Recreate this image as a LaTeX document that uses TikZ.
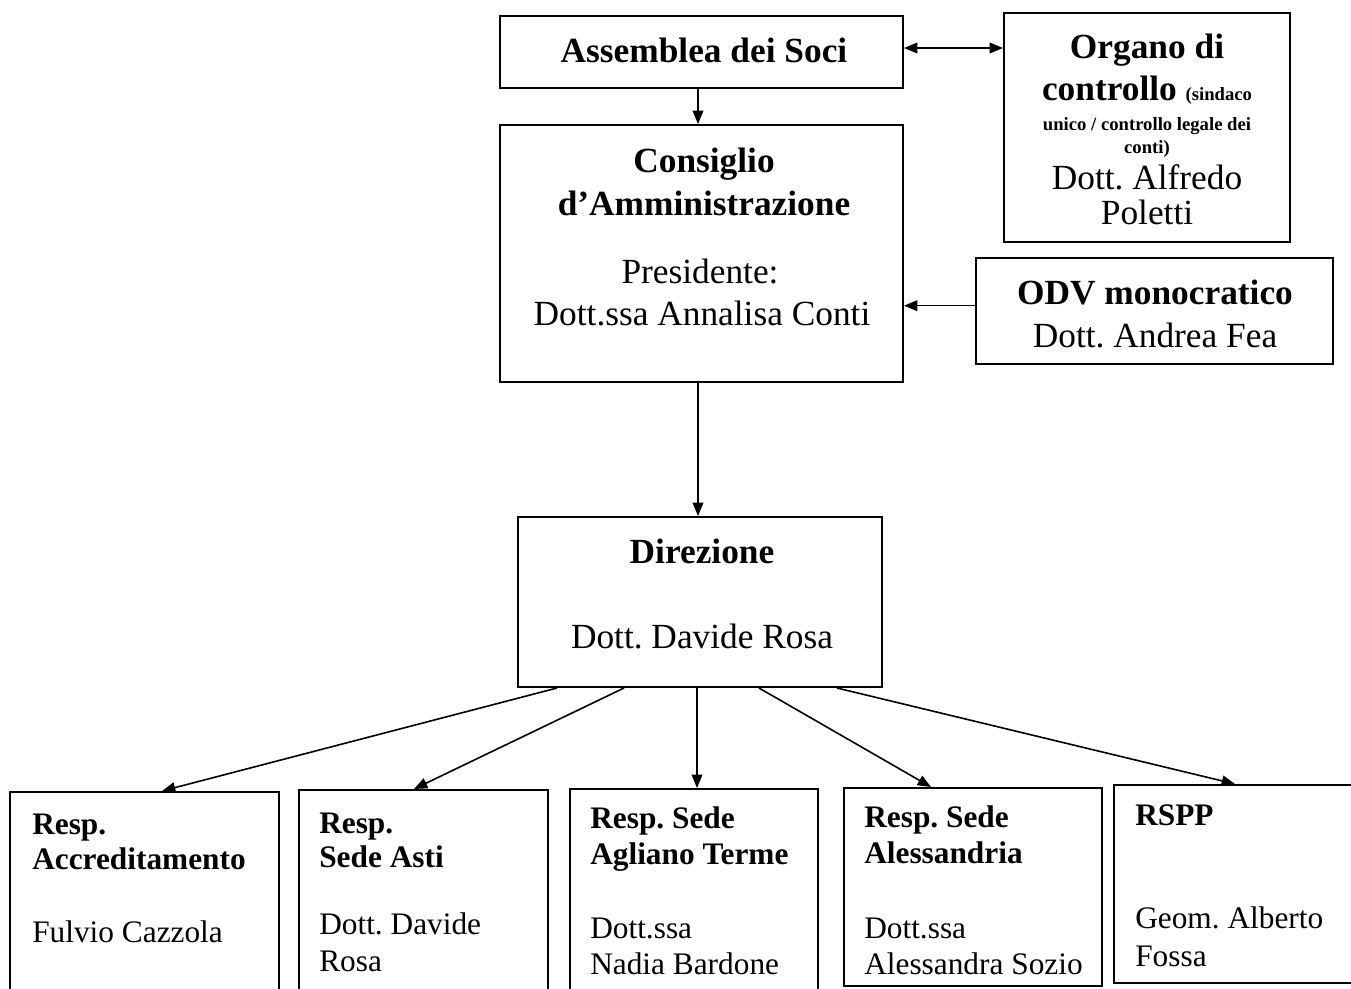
\documentclass[tikz,border=0pt]{standalone}
\usepackage{fontspec}
\setmainfont{Liberation Serif}
\usetikzlibrary{arrows.meta,fit,calc}
\tikzset{
  box/.style={draw, line width=1.5pt, inner sep=0pt, rectangle},
  arr/.style={line width=1.2pt, -{Triangle[length=10pt,width=8pt]}},
  darr/.style={line width=1.2pt, {Triangle[length=10pt,width=8pt]}-{Triangle[length=10pt,width=8pt]}},
  tx/.style={anchor=base, inner sep=0pt},
  txl/.style={anchor=base west, inner sep=0pt},
  big/.style={font=\fontsize{26.5}{32}\selectfont},
  bigb/.style={font=\fontsize{26.5}{32}\selectfont\bfseries},
  med/.style={font=\fontsize{23.5}{28}\selectfont},
  medb/.style={font=\fontsize{23.5}{28}\selectfont\bfseries},
}
\newcommand{\smallb}{\fontsize{14}{16}\selectfont\bfseries}
\frenchspacing
\begin{document}
\begin{tikzpicture}[x=0.75pt,y=-0.75pt]
\useasboundingbox (0,0) rectangle (1351,988);
% boxes
\node[box, fit={(500,16) (903,88)}] (asm) {};
\node[box, fit={(1004,13) (1290,242)}] (org) {};
\node[box, fit={(500,125) (903,382)}] (cons) {};
\node[box, fit={(976,258) (1333,364)}] (odv) {};
\node[box, fit={(518,517) (882,687)}] (dir) {};
\node[box, fit={(10,792) (279,994)}] (b1) {};
\node[box, fit={(299,790) (548,994)}] (b2) {};
\node[box, fit={(570,789) (818,994)}] (b3) {};
\node[box, fit={(844,788) (1102,986)}] (b4) {};
\node[box, fit={(1114,785) (1365,983)}] (b5) {};
\coordinate (vx) at (698,0);
% texts
\node[tx, bigb] (tasm) at (704,63) {Assemblea dei Soci};
\node[tx, bigb] (torg1) at (1147,59) {Organo di};
\node[tx, bigb] (torg2) at (1147,101) {controllo {\smallb(sindaco}};
\node[tx, font=\smallb] (torg3) at (1147,131) {unico / controllo legale dei};
\node[tx, font=\smallb] (torg4) at (1147,153) {conti)};
\node[tx, big] (torg5) at (1147,189) {Dott. Alfredo};
\node[tx, big] (torg6) at (1147,224) {Poletti};
\node[tx, bigb] (tcons1) at (704,172) {Consiglio};
\node[tx, bigb] (tcons2) at (704,215) {d’Amministrazione};
\node[tx, big] (tcons3) at (700,283) {Presidente:};
\node[tx, big] (tcons4) at (702,325) {Dott.ssa Annalisa Conti};
\node[tx, bigb] (todv1) at (1155,304) {ODV monocratico};
\node[tx, big] (todv2) at (1155,347) {Dott. Andrea Fea};
\node[tx, bigb] (tdir1) at (702,563) {Direzione};
\node[tx, big] (tdir2) at (702,648) {Dott. Davide Rosa};
\node[txl, medb] (t11) at (32,834) {Resp.};
\node[txl, medb] (t12) at (32,869) {Accreditamento};
\node[txl, med] (t13) at (32,942) {Fulvio Cazzola};
\node[txl, medb] (t21) at (319,833) {Resp.};
\node[txl, medb] (t22) at (319,867) {Sede Asti};
\node[txl, med] (t23) at (319,934) {Dott. Davide};
\node[txl, med] (t24) at (319,971) {Rosa};
\node[txl, medb] (t31) at (590,828) {Resp. Sede};
\node[txl, medb] (t32) at (590,864) {Agliano Terme};
\node[txl, med] (t33) at (590,938) {Dott.ssa};
\node[txl, med] (t34) at (590,974) {Nadia Bardone};
\node[txl, medb] (t41) at (864,827) {Resp. Sede};
\node[txl, medb] (t42) at (864,863) {Alessandria};
\node[txl, med] (t43) at (864,938) {Dott.ssa};
\node[txl, med] (t44) at (864,974) {Alessandra Sozio};
\node[txl, medb] (t51) at (1135,825) {RSPP};
\node[txl, med] (t52) at (1135,928) {Geom. Alberto};
\node[txl, med] (t53) at (1135,966) {Fossa};
% connectors
\draw[darr] ([yshift=3pt]asm.east) -- ([yshift=3pt]asm.east -| org.west);
\draw[arr] (asm.south -| vx) -- (cons.north -| vx);
\draw[arr] ([yshift=4pt]odv.west) -- ([yshift=4pt]odv.west -| cons.east);
\draw[arr] (cons.south -| vx) -- (dir.north -| vx);
\draw[arr] ($(dir.south west)+(40,0)$) -- ($(b1.north west)+(153,0)$);
\draw[arr] ($(dir.south west)+(107,0)$) -- ($(b2.north west)+(116,0)$);
\draw[arr] ($(dir.south west)+(180,0)$) -- ($(b3.north west)+(128,0)$);
\draw[arr] ($(dir.south west)+(242,0)$) -- ($(b4.north west)+(88,0)$);
\draw[arr] ($(dir.south west)+(320,0)$) -- ($(b5.north west)+(122,0)$);
\end{tikzpicture}
\end{document}
